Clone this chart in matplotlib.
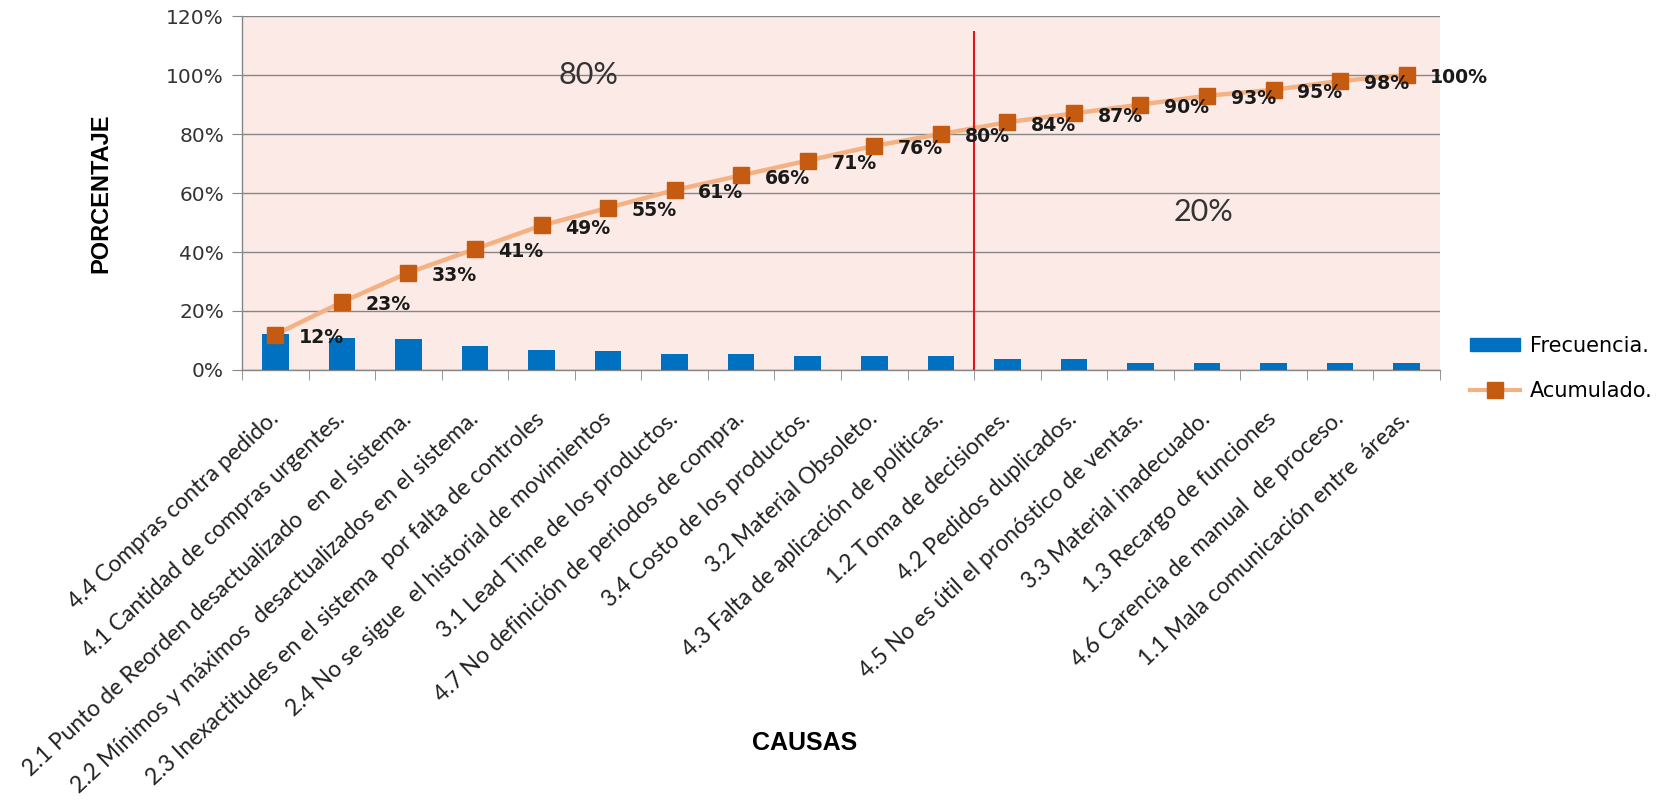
import matplotlib
matplotlib.use("Agg")
import matplotlib.pyplot as plt
from matplotlib.lines import Line2D
from matplotlib.patches import Patch
from matplotlib.ticker import FixedLocator

# ---- data ----
causas = [
    "4.4 Compras contra pedido.",
    "4.1 Cantidad de compras urgentes.",
    "2.1 Punto de Reorden desactualizado  en el sistema.",
    "2.2 Mínimos y máximos  desactualizados en el sistema.",
    "2.3 Inexactitudes en el sistema  por falta de controles",
    "2.4 No se sigue  el historial de movimientos",
    "3.1 Lead Time de los productos.",
    "4.7 No definición de periodos de compra.",
    "3.4 Costo de los productos.",
    "3.2 Material Obsoleto.",
    "4.3 Falta de aplicación de políticas.",
    "1.2 Toma de decisiones.",
    "4.2 Pedidos duplicados.",
    "4.5 No es útil el pronóstico de ventas.",
    "3.3 Material inadecuado.",
    "1.3 Recargo de funciones",
    "4.6 Carencia de manual  de proceso.",
    "1.1 Mala comunicación entre  áreas.",
]
frecuencia = [12.1, 11.0, 10.4, 8.3, 6.9, 6.4, 5.5, 5.5, 4.9,
              4.6, 4.6, 3.8, 3.8, 2.3, 2.3, 2.5, 2.5, 2.5]
acumulado = [12, 23, 33, 41, 49, 55, 61, 66, 71, 76, 80, 84, 87, 90, 93, 95, 98, 100]
y_ticks = [0, 20, 40, 60, 80, 100, 120]

# ---- style ----
BLUE = "#0070C0"
PEACH = "#F4B183"
ORANGE = "#C55A11"
PLOT_BG = "#FBEAE5"
GRID = "#868686"

fig = plt.figure(figsize=(16.66, 8.05), dpi=100)
ax = fig.add_axes([0.1453, 0.5404, 0.8643 - 0.1453, 0.980 - 0.5404])
ax.set_facecolor(PLOT_BG)

x = list(range(len(causas)))

ax.bar(x, frecuencia, width=0.4, color=BLUE, zorder=3)
ax.plot(x, acumulado, color=PEACH, lw=3.2, marker="s", markersize=12,
        markerfacecolor=ORANGE, markeredgecolor=ORANGE, zorder=4)

for xi, v in zip(x, acumulado):
    ax.annotate(f"{v}%", (xi, v), xytext=(17, -2), textcoords="offset points",
                ha="left", va="center", fontsize=13.6, fontweight="bold",
                color="#1a1a1a", family="DejaVu Sans", zorder=5)

# 80/20 cut line
corte = acumulado.index(80) + 0.5
ax.vlines(corte, 0, 115, color="#E3151A", lw=1.5, zorder=4)
ax.text(4.7, 100, "80%", fontsize=22, color="#333333", family="Lato",
        ha="center", va="center", zorder=5)
ax.text(13.95, 53.5, "20%", fontsize=22, color="#333333", family="Lato",
        ha="center", va="center", zorder=5)

# axes
ax.set_xlim(-0.5, len(causas) - 0.5)
ax.set_ylim(0, 120)
ax.yaxis.set_major_locator(FixedLocator(y_ticks))
ax.set_yticklabels([f"{t}%" for t in y_ticks], fontsize=14.5,
                   family="DejaVu Sans", color="#333333")
ax.grid(axis="y", color=GRID, lw=1.0, zorder=1)
ax.set_axisbelow(True)

ax.set_xticks(x)
ax.set_xticklabels(causas, rotation=43, ha="right", va="center",
                   rotation_mode="anchor", fontsize=16.5, family="Lato",
                   color="#222222")
ax.tick_params(axis="x", which="major", length=0, pad=33)
ax.set_xticks([i - 0.5 for i in range(len(causas) + 1)], minor=True)
ax.tick_params(axis="x", which="minor", length=7, color=GRID, direction="out")
ax.tick_params(axis="y", length=7, color=GRID, direction="out", pad=6)

for side in ("top", "right"):
    ax.spines[side].set_visible(False)
for side in ("left", "bottom"):
    ax.spines[side].set_color(GRID)
    ax.spines[side].set_linewidth(1.0)

fig.text(0.0606, 0.760, "PORCENTAJE", rotation=90, ha="center", va="center",
         fontsize=17, fontweight="bold", family="Liberation Sans")
fig.text(0.483, 0.077, "CAUSAS", ha="center", va="center",
         fontsize=18, fontweight="bold", family="Liberation Sans")

handles = [
    Patch(facecolor=BLUE, edgecolor=BLUE),
    Line2D([], [], color=PEACH, lw=3, marker="s", markersize=12,
           markerfacecolor=ORANGE, markeredgecolor=ORANGE),
]
fig.legend(handles, ["Frecuencia.", "Acumulado."], loc="center left",
           bbox_to_anchor=(0.871, 0.542), frameon=False,
           prop={"family": "DejaVu Sans", "size": 15},
           handlelength=2.4, handleheight=0.6, handletextpad=0.5,
           labelspacing=1.2)

fig.savefig("out.png", dpi=100, facecolor="white")
